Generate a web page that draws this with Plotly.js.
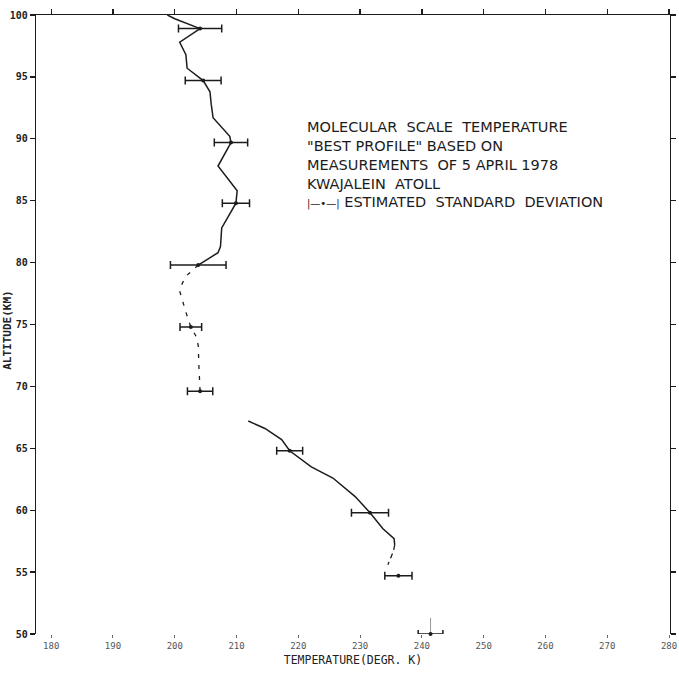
<!DOCTYPE html>
<html>
<head>
<meta charset="utf-8">
<script src="https://cdn.plot.ly/plotly-3.0.1.min.js"></script>
<style>html,body{margin:0;padding:0;background:#fff}#chart{width:679px;height:674px}</style>
</head>
<body>
<div id="chart"></div>
<script>
// Temperature profile (K) vs altitude (km)
var upperAlt = [100, 99.7, 98.9, 97.8, 96.8, 95.7, 94.7, 93.8, 92.8, 91.7, 90.2, 89.7, 87.8, 85.8, 84.8, 82.8, 81.3, 80.8, 79.8];
var upperT   = [198.8, 200.0, 204.1, 200.8, 201.8, 202.0, 204.6, 205.7, 205.9, 206.2, 208.9, 209.1, 207.0, 210.1, 209.9, 207.6, 207.4, 207.0, 203.8];

var midAlt = [79.8, 78.9, 78.2, 77.7, 76.0, 74.8, 74.0, 73.3, 71.7, 70.6, 69.6];
var midT   = [203.8, 201.8, 201.1, 200.8, 201.8, 202.6, 203.5, 203.8, 203.9, 204.0, 204.1];

var lowerAlt = [67.2, 66.6, 65.7, 64.8, 63.5, 62.6, 61.1, 59.8, 58.5, 57.7, 57.2];
var lowerT   = [211.9, 214.6, 217.3, 218.6, 222.1, 225.6, 229.2, 231.6, 233.7, 235.5, 235.6];

var tailAlt = [57.2, 56.7, 55.6];
var tailT   = [235.6, 235.4, 234.5];

// Estimated standard deviation points
var sdAlt = [98.9, 94.7, 89.7, 84.8, 79.8, 74.8, 69.6, 64.8, 59.8, 54.7, 50.0];
var sdT   = [204.1, 204.6, 209.1, 209.9, 203.8, 202.6, 204.1, 218.6, 231.6, 236.2, 241.4];
var sdErr = [3.5, 2.9, 2.7, 2.2, 4.5, 1.75, 2.05, 2.1, 3.0, 2.2, 2.0];
var sdAltErr = [0, 0, 0, 0, 0, 0, 0, 0, 0, 0, 1.3];

var xTicks = [180, 190, 200, 210, 220, 230, 240, 250, 260, 270, 280];
var yTicks = [50, 55, 60, 65, 70, 75, 80, 85, 90, 95, 100];

var noteLines = [
  'MOLECULAR  SCALE  TEMPERATURE',
  '"BEST PROFILE" BASED ON',
  'MEASUREMENTS  OF 5 APRIL 1978',
  'KWAJALEIN  ATOLL'
];
var legendText = 'ESTIMATED  STANDARD  DEVIATION';

var ink = '#1c1c1c';
var xRange = [177.54, 280.16];

var traces = [
  {x: upperT, y: upperAlt, xaxis: 'x2', mode: 'lines', line: {color: ink, width: 1.5}},
  {x: midT, y: midAlt, mode: 'lines', line: {color: ink, width: 1.3, dash: '4px,7px'}},
  {x: lowerT, y: lowerAlt, mode: 'lines', line: {color: ink, width: 1.5}},
  {x: tailT, y: tailAlt, mode: 'lines', line: {color: ink, width: 1.3, dash: '5px,4px'}},
  {x: sdT, y: sdAlt, mode: 'markers', cliponaxis: false, marker: {color: ink, size: 4},
   error_x: {type: 'data', array: sdErr, visible: true, color: ink, thickness: 1.5, width: 4},
   error_y: {type: 'data', array: sdAltErr, visible: true, color: '#999', thickness: 1, width: 0}}
];

var monoBold = {family: 'DejaVu Sans Mono', size: 11, color: '#222', weight: 'bold'};

var layout = {
  width: 679, height: 674,
  margin: {l: 36, r: 9, t: 15, b: 40},
  paper_bgcolor: '#fff', plot_bgcolor: '#fff',
  showlegend: false,
  xaxis: {
    range: xRange, tickvals: xTicks, ticktext: xTicks.map(String),
    showgrid: false, zeroline: false, showline: false,
    ticks: 'outside', ticklen: 3, tickcolor: '#666', tickwidth: 1,
    tickfont: {family: 'DejaVu Sans Mono', size: 9, color: '#555'},
    title: {text: 'TEMPERATURE(DEGR. K)', font: {family: 'DejaVu Sans Mono', size: 11.5, color: '#222'}, standoff: 6}
  },
  xaxis2: {
    range: xRange, tickvals: xTicks, overlaying: 'x', side: 'top', anchor: 'y',
    showgrid: false, zeroline: false, showline: true, linecolor: ink, linewidth: 1.3,
    ticks: 'outside', ticklen: 5, tickcolor: ink, tickwidth: 1.3, showticklabels: false
  },
  yaxis: {
    range: [50, 100], tickvals: yTicks, ticktext: yTicks.map(String),
    showgrid: false, zeroline: false, showline: true, mirror: 'ticks',
    linecolor: ink, linewidth: 1.3,
    ticks: 'outside', ticklen: 5, tickcolor: ink, tickwidth: 1.3,
    tickfont: {family: 'DejaVu Sans Mono', size: 10, color: '#222', weight: 'bold'}
  },
  annotations: [
    {xref: 'paper', yref: 'paper', x: 0.424, y: 0.836, xanchor: 'left', yanchor: 'top', align: 'left',
     showarrow: false,
     text: noteLines.join('<br>') + '<br><span style="font-size:10px">|—•—|</span> ' + legendText,
     font: {family: 'DejaVu Sans', size: 14.5, color: ink}},
    {xref: 'paper', yref: 'paper', x: -0.044, y: 0.49, xanchor: 'center', yanchor: 'middle',
     textangle: -90, showarrow: false, text: 'ALTITUDE(KM)', font: monoBold}
  ]
};

Plotly.newPlot('chart', traces, layout, {staticPlot: true});
</script>
</body>
</html>
